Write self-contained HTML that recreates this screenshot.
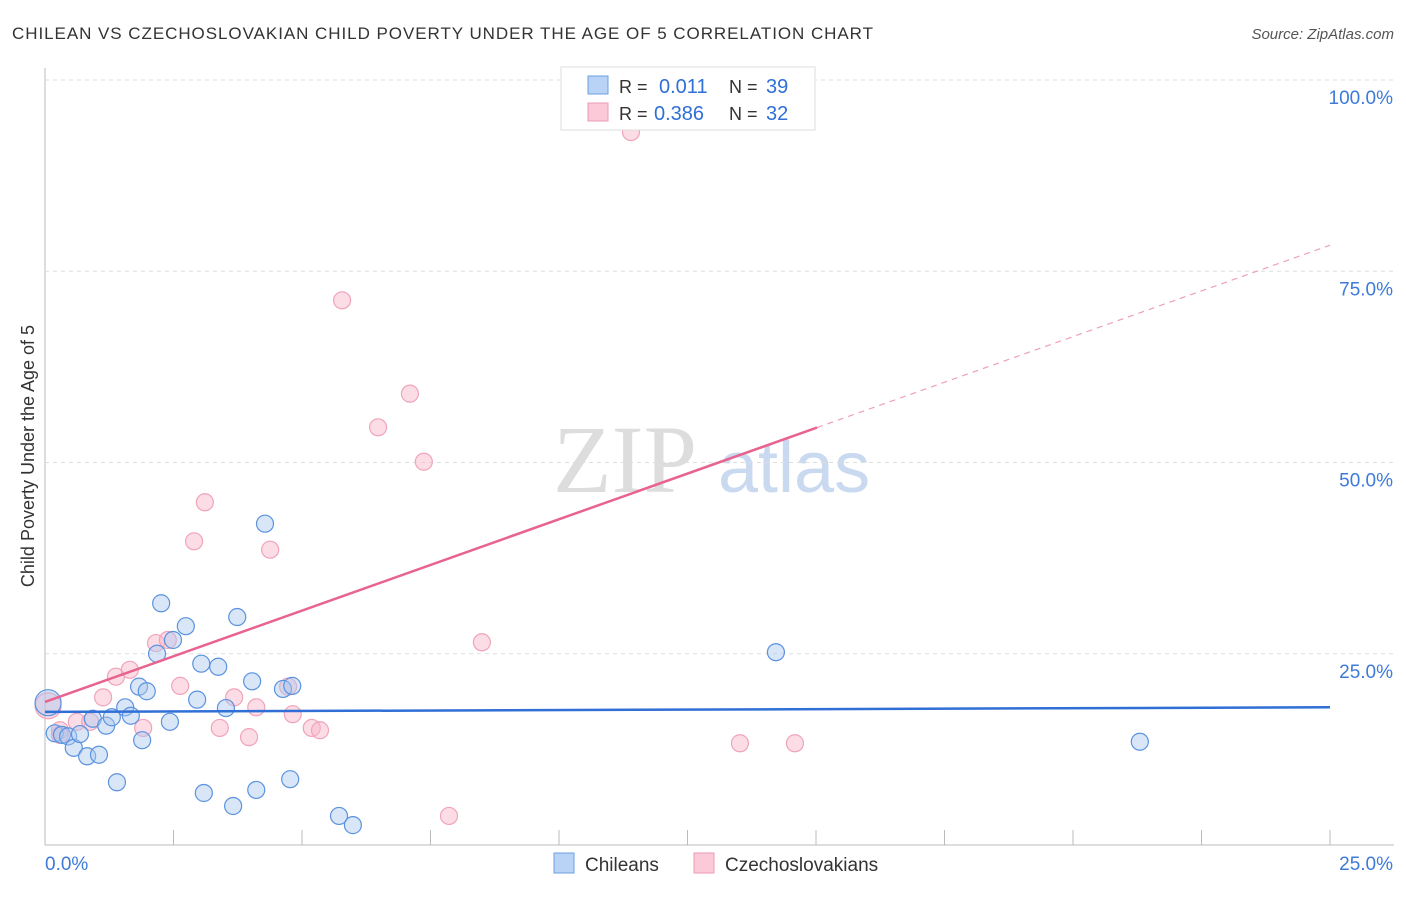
<!DOCTYPE html>
<html><head><meta charset="utf-8"><style>
body{margin:0;background:#fff;font-family:"Liberation Sans",sans-serif}
</style></head><body>
<svg id="c" width="1406" height="892" xmlns="http://www.w3.org/2000/svg" style="font-family:'Liberation Sans',sans-serif">
<text x="12" y="39" font-size="17" fill="#333" textLength="861">CHILEAN VS CZECHOSLOVAKIAN CHILD POVERTY UNDER THE AGE OF 5 CORRELATION CHART</text>
<text x="1394" y="39" font-size="15" fill="#555" font-style="italic" text-anchor="end">Source: ZipAtlas.com</text>
<text x="34" y="456" font-size="18" fill="#333" text-anchor="middle" transform="rotate(-90 34 456)">Child Poverty Under the Age of 5</text>
<text x="553" y="492" font-size="96" fill="#ddd" font-family="Liberation Serif">ZIP</text>
<text x="718" y="492" font-size="72" fill="#c9daf0">atlas</text>
<g id="grid"></g><g id="pts"></g><g id="lines"></g>
<g>
<rect x="561" y="67" width="254" height="63" fill="#fff" stroke="#ddd"/>
<rect x="588" y="76" width="20" height="18" fill="#b8d3f5" stroke="#6a9fe0"/>
<rect x="588" y="103" width="20" height="18" fill="#fbc9d8" stroke="#ee9ab4"/>
<text x="619" y="93" font-size="18" fill="#333">R =</text>
<text x="659" y="93" font-size="20" fill="#2f6fd6">0.011</text>
<text x="729" y="93" font-size="18" fill="#333">N =</text>
<text x="766" y="93" font-size="20" fill="#2f6fd6">39</text>
<text x="619" y="120" font-size="18" fill="#333">R =</text>
<text x="654" y="120" font-size="20" fill="#2f6fd6">0.386</text>
<text x="729" y="120" font-size="18" fill="#333">N =</text>
<text x="766" y="120" font-size="20" fill="#2f6fd6">32</text>
</g>
<g>
<rect x="554" y="853" width="20" height="20" fill="#b8d3f5" stroke="#6a9fe0"/>
<text x="585" y="871" font-size="19" fill="#333">Chileans</text>
<rect x="694" y="853" width="20" height="20" fill="#fbc9d8" stroke="#ee9ab4"/>
<text x="725" y="871" font-size="19" fill="#333">Czechoslovakians</text>
</g>
</svg>
<script>
const blueX=[0.06,0.19,0.33,0.45,0.56,0.68,0.82,0.93,1.05,1.19,1.30,1.40,1.56,1.67,1.83,1.89,1.98,2.18,2.26,2.43,2.49,2.74,2.96,3.04,3.09,3.37,3.52,3.66,3.74,4.03,4.11,4.28,4.63,4.81,4.77,5.72,5.99,14.22,21.30];
const blueY=[18.6,14.6,14.4,14.2,12.7,14.5,11.6,16.5,11.8,15.6,16.7,8.2,18.0,16.9,20.7,13.7,20.1,25.0,31.6,16.1,26.8,28.6,19.0,23.7,6.8,23.3,17.9,5.1,29.8,21.4,7.2,42.0,20.4,20.8,8.6,3.8,2.6,25.2,13.5];
const pinkX=[0.06,0.29,0.29,0.62,0.88,1.13,1.38,1.65,1.91,2.16,2.39,2.63,2.90,3.11,3.40,3.68,3.97,4.11,4.38,4.73,4.82,5.19,5.35,5.78,6.48,7.10,7.37,7.86,8.50,11.40,13.52,14.59];
const pinkY=[18.2,15.0,14.4,16.1,16.1,19.3,22.0,22.9,15.3,26.4,26.8,20.8,39.7,44.8,15.3,19.3,14.1,18.0,38.6,20.7,17.1,15.3,15.0,71.2,54.6,59.0,50.1,3.8,26.5,93.2,13.3,13.3];
const xTicks=[0,25], yTicks=[25,50,75,100];
const blueLine=[17.4,18.0], pinkLine=[18.7,78.4], pinkSolidEnd=15.02;
const X0=45,X1=1330,Y0=845,Y100=80;
const sx=v=>X0+(X1-X0)*v/25, sy=v=>Y0-(Y0-Y100)*v/100;
const NS="http://www.w3.org/2000/svg";
function mk(t,a,p){const e=document.createElementNS(NS,t);for(const k in a)e.setAttribute(k,a[k]);document.getElementById(p).appendChild(e);return e;}
let e=mk('line',{x1:X0,y1:68,x2:X0,y2:Y0,stroke:'#bbb'},'grid');


e=mk('line',{x1:X0,y1:Y0,x2:1394,y2:Y0,stroke:'#bbb'},'grid');


for(let i=1;i<=10;i++){const x=sx(i*2.5);
e=mk('line',{x1:x,y1:Y0-15,x2:x,y2:Y0,stroke:'#bbb'},'grid');

}
yTicks.forEach(v=>{
e=mk('line',{x1:X0,y1:sy(v),x2:1394,y2:sy(v),stroke:'#ddd','stroke-dasharray':'4,4'},'grid');


e=mk('text',{x:1393,y:sy(v)+24,'font-size':19,fill:'#3d7ad9','text-anchor':'end'},'grid');e.textContent=v.toFixed(1)+'%';

});
xTicks.forEach((v,i)=>{
e=mk('text',{x:i?1393:45,y:870,'font-size':19,fill:'#3d7ad9','text-anchor':i?'end':'start'},'grid');e.textContent=v.toFixed(1)+'%';

});
pinkX.forEach((v,i)=>{
e=mk('circle',{cx:sx(v),cy:sy(pinkY[i]),r:i==0?13:8.5,fill:'rgba(248,180,200,0.45)',stroke:'#f0a3bb','stroke-width':1.2},'pts');

});
blueX.forEach((v,i)=>{
e=mk('circle',{cx:sx(v),cy:sy(blueY[i]),r:i==0?13:8.5,fill:'rgba(170,200,240,0.45)',stroke:'#5b93df','stroke-width':1.2},'pts');

});
e=mk('line',{x1:sx(0),y1:sy(blueLine[0]),x2:sx(25),y2:sy(blueLine[1]),stroke:'#2f6fd6','stroke-width':2.5},'lines');


const py=v=>pinkLine[0]+(pinkLine[1]-pinkLine[0])*v/25;
e=mk('line',{x1:sx(0),y1:sy(py(0)),x2:sx(pinkSolidEnd),y2:sy(py(pinkSolidEnd)),stroke:'#e8638f','stroke-width':2.5},'lines');


e=mk('line',{x1:sx(pinkSolidEnd),y1:sy(py(pinkSolidEnd)),x2:sx(25),y2:sy(py(25)),stroke:'#eea0b8','stroke-width':1.2,'stroke-dasharray':'6,5'},'lines');


</script>
</body></html>
